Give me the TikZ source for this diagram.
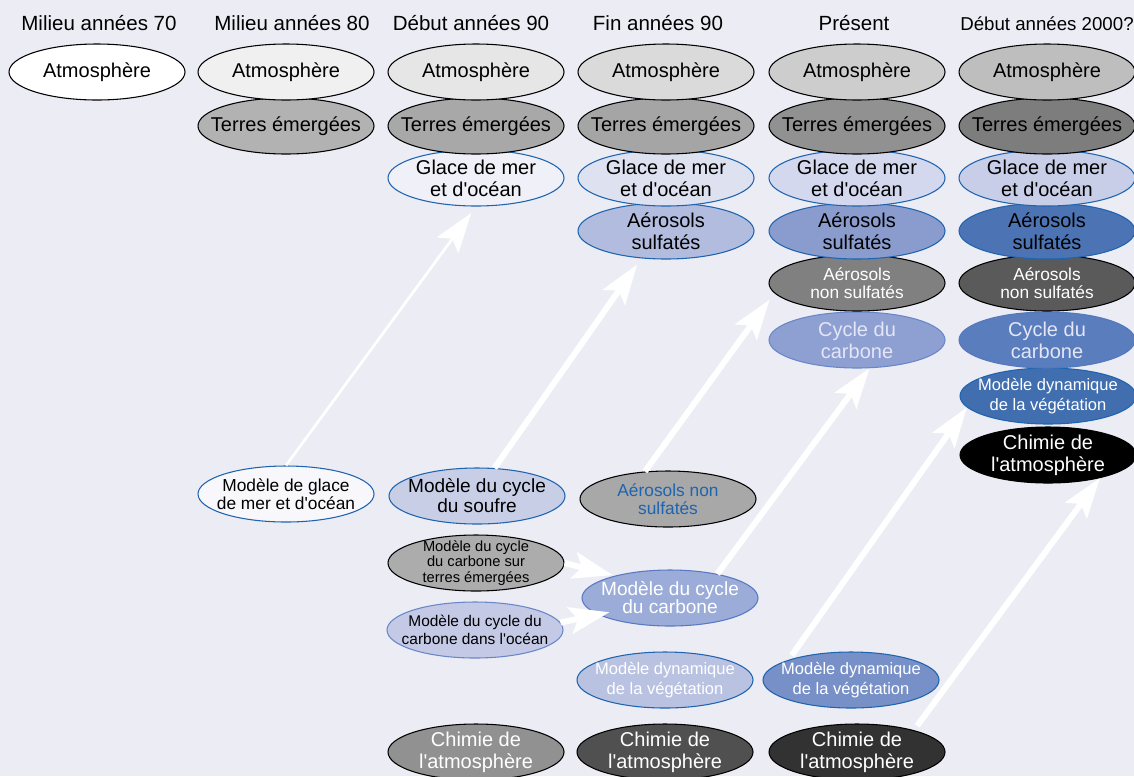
\documentclass[tikz,border=0pt]{standalone}
\usepackage{fontspec}
\setmainfont{Liberation Sans}[Ligatures=TeXOff]
\usetikzlibrary{shapes.geometric,arrows.meta}

\definecolor{bgc}{RGB}{236,236,245}
\definecolor{blueline}{RGB}{30,100,175}
\definecolor{lightline}{RGB}{105,135,200}
\definecolor{paletext}{RGB}{228,230,246}

\begin{document}
\begin{tikzpicture}[x=0.75pt, y=-0.75pt,
  box/.style={ellipse, draw, line width=0.8pt, minimum width=132pt, minimum height=42pt,
    inner xsep=-25pt, inner ysep=-20pt, align=center, font=\fontsize{15}{16.5}\selectfont},
  bbox/.style={box, draw=blueline},
  title/.style={anchor=base, font=\fontsize{15.4}{17}\selectfont},
  flow/.style={draw=white, line width=4.5pt, -{Stealth[length=30pt, width=20pt, inset=6pt]}}]

  \fill [bgc] (0,0) rectangle (1134,776);
  \useasboundingbox (0,0) rectangle (1134,776);

  % periods
  \node [title] (t1) at (99,30) {Milieu années 70};
  \node [title] (t2) at (292,30) {Milieu années 80};
  \node [title] (t3) at (471,30) {Début années 90};
  \node [title] (t4) at (658,30) {Fin années 90};
  \node [title] (t5) at (854,30) {Présent};
  \node [title, font=\fontsize{14}{16}\selectfont] (t6) at (1047,30) {Début années 2000?};

  % mid 70s
  \node [box, fill=white] (atm1) at (97,72) {Atmosphère};

  % mid 80s
  \node [box, fill={rgb,255:red,178;green,178;blue,178}] (ter2) at (286,126) {Terres émergées};
  \node [box, fill={rgb,255:red,240;green,240;blue,240}] (atm2) at (286,72) {Atmosphère};

  % early 90s
  \node [bbox, fill={rgb,255:red,240;green,240;blue,248}] (glace3) at (476,178) {Glace de mer\\et d'océan};
  \node [box, fill={rgb,255:red,168;green,168;blue,168}] (ter3) at (476,126) {Terres émergées};
  \node [box, fill={rgb,255:red,230;green,230;blue,230}] (atm3) at (476,72) {Atmosphère};

  % late 90s
  \node [bbox, fill={rgb,255:red,178;green,188;blue,222}] (sul4) at (666,231) {Aérosols\\sulfatés};
  \node [bbox, fill={rgb,255:red,222;green,225;blue,240}] (glace4) at (666,178) {Glace de mer\\et d'océan};
  \node [box, fill={rgb,255:red,165;green,165;blue,165}] (ter4) at (666,126) {Terres émergées};
  \node [box, fill={rgb,255:red,218;green,218;blue,218}] (atm4) at (666,72) {Atmosphère};

  % present
  \node [box, draw=lightline, fill={rgb,255:red,142;green,160;blue,210}, text=paletext] (cyc5) at (857,340) {Cycle du\\carbone};
  \node [box, fill={rgb,255:red,128;green,128;blue,128}, text=white,
         font=\fontsize{13}{13.5}\selectfont] (ans5) at (857,283) {Aérosols\\non sulfatés};
  \node [bbox, fill={rgb,255:red,138;green,156;blue,205}] (sul5) at (857,231) {Aérosols\\sulfatés};
  \node [bbox, fill={rgb,255:red,212;green,216;blue,238}] (glace5) at (857,178) {Glace de mer\\et d'océan};
  \node [box, fill={rgb,255:red,145;green,145;blue,145}] (ter5) at (857,126) {Terres émergées};
  \node [box, fill={rgb,255:red,205;green,205;blue,205}] (atm5) at (857,72) {Atmosphère};

  % early 2000s
  \node [box, fill=black, text=white] (chim6) at (1048,455) {Chimie de\\l'atmosphère};
  \node [bbox, fill={rgb,255:red,65;green,110;blue,175}, text=white,
         font=\fontsize{12.4}{15}\selectfont] (mdv6) at (1048,396) {Modèle dynamique\\de la végétation};
  \node [box, draw={rgb,255:red,85;green,120;blue,188}, fill={rgb,255:red,90;green,125;blue,190}, text=paletext] (cyc6) at (1047,340) {Cycle du\\carbone};
  \node [box, fill={rgb,255:red,90;green,90;blue,90}, text=white,
         font=\fontsize{13}{13.5}\selectfont] (ans6) at (1047,283) {Aérosols\\non sulfatés};
  \node [bbox, fill={rgb,255:red,76;green,116;blue,180}] (sul6) at (1047,231) {Aérosols\\sulfatés};
  \node [bbox, fill={rgb,255:red,200;green,206;blue,232}] (glace6) at (1047,178) {Glace de mer\\et d'océan};
  \node [box, fill={rgb,255:red,125;green,125;blue,125}] (ter6) at (1047,126) {Terres émergées};
  \node [box, fill={rgb,255:red,190;green,190;blue,190}] (atm6) at (1047,72) {Atmosphère};

  % component models
  \node [bbox, fill={rgb,255:red,248;green,248;blue,252}, font=\fontsize{13}{13.8}\selectfont] (gmod) at (286,494) {Modèle de glace\\de mer et d'océan};
  \node [bbox, fill={rgb,255:red,200;green,206;blue,230}, font=\fontsize{14.3}{15}\selectfont] (soufre) at (477,496) {Modèle du cycle\\du soufre};
  \node [box, fill={rgb,255:red,168;green,168;blue,168}, text=blueline,
         font=\fontsize{13}{13.5}\selectfont] (ans4) at (668,499) {Aérosols non\\sulfatés};
  \node [box, fill={rgb,255:red,172;green,172;blue,172}, font=\fontsize{11}{11.5}\selectfont] (cterres) at (476,563) {Modèle du cycle\\du carbone sur\\terres émergées};
  \node [box, draw=lightline, fill={rgb,255:red,196;green,202;blue,230}, font=\fontsize{11.6}{13.5}\selectfont] (cocean) at (475,630) {Modèle du cycle du\\carbone dans l'océan};
  \node [box, draw={rgb,255:red,90;green,120;blue,195}, fill={rgb,255:red,155;green,172;blue,216}, text=white,
         font=\fontsize{14.3}{13.5}\selectfont] (ccarb4) at (670,598) {Modèle du cycle\\du carbone};
  \node [bbox, fill={rgb,255:red,186;green,194;blue,226}, text=white,
         font=\fontsize{12.4}{14.5}\selectfont] (mdv4) at (665,680) {Modèle dynamique\\de la végétation};
  \node [bbox, fill={rgb,255:red,120;green,144;blue,200}, text=white,
         font=\fontsize{12.4}{14.5}\selectfont] (mdv5) at (851,680) {Modèle dynamique\\de la végétation};
  \node [box, fill={rgb,255:red,145;green,145;blue,145}, text=white] (chim3) at (476,752) {Chimie de\\l'atmosphère};
  \node [box, fill={rgb,255:red,80;green,80;blue,80}, text=white] (chim4) at (665,752) {Chimie de\\l'atmosphère};
  \node [box, fill={rgb,255:red,50;green,50;blue,50}, text=white] (chim5) at (857,752) {Chimie de\\l'atmosphère};

  % coupling
  \path (gmod.north) edge [flow, line width=2pt, shorten >=6pt] (glace3.south)
        (soufre.58) edge [flow, shorten >=5.5pt] (sul4.228)
        (ans4.130) edge [flow, shorten >=6pt] (ans5.187)
        (ccarb4.27) edge [flow] (cyc5.294)
        (mdv5.162) edge [flow, shorten <=4pt] (mdv6.188)
        (chim5.21) edge [flow, shorten <=4pt] (chim6.336)
        (cterres.east) edge [flow, shorten >=1.5pt] (ccarb4.158)
        (cocean.5) edge [flow, shorten >=-8.7pt] (ccarb4.193);
\end{tikzpicture}
\end{document}
